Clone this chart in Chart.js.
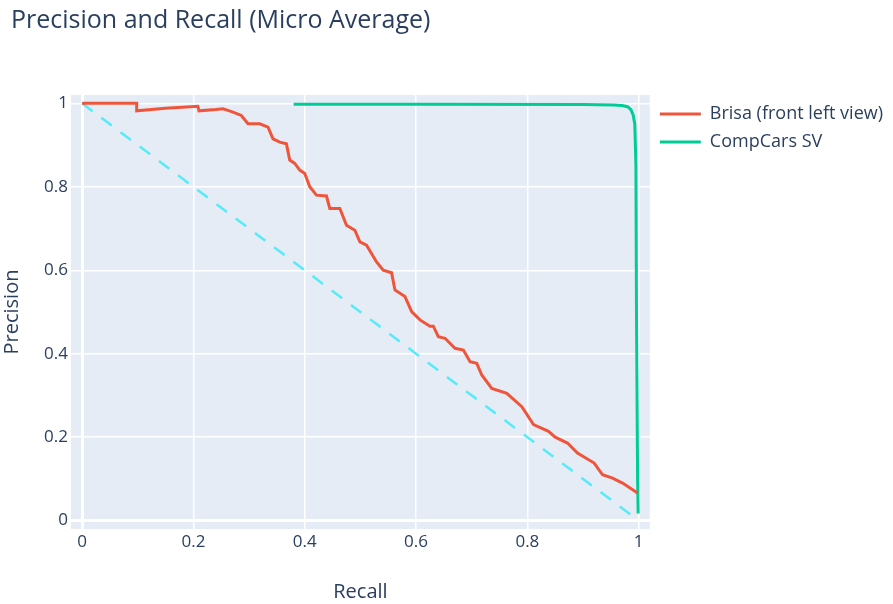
<!DOCTYPE html>
<html>
<head>
<meta charset="utf-8">
<title>Precision and Recall (Micro Average)</title>
<script src="https://cdn.jsdelivr.net/npm/chart.js@4/dist/chart.umd.min.js"></script>
<style>
    html, body { margin: 0; padding: 0; background: #fff; }
    #wrap { width: 893px; height: 604px; position: relative; }
</style>
</head>
<body>
<div id="wrap"><canvas id="pr-chart"></canvas></div>
<script>
// ===== Data =====
const brisaRecall = [0, 0.098, 0.098, 0.15, 0.208, 0.21, 0.24, 0.253, 0.262, 0.271, 0.286, 0.298, 0.319, 0.334, 0.343,
    0.355, 0.367, 0.373, 0.382, 0.391, 0.400, 0.409, 0.421, 0.439, 0.445, 0.463, 0.475, 0.490, 0.499, 0.511,
    0.529, 0.541, 0.556, 0.562, 0.580, 0.592, 0.607, 0.625, 0.631, 0.640, 0.652, 0.670, 0.685, 0.697, 0.709,
    0.718, 0.736, 0.763, 0.790, 0.811, 0.838, 0.850, 0.872, 0.890, 0.920, 0.935, 0.953, 0.971, 0.998];
const brisaPrecision = [1, 1, 0.982, 0.988, 0.993, 0.982, 0.985, 0.987, 0.983, 0.979, 0.971, 0.951, 0.951, 0.943, 0.915,
    0.907, 0.903, 0.864, 0.856, 0.840, 0.832, 0.800, 0.780, 0.778, 0.748, 0.748, 0.708, 0.696, 0.668, 0.660,
    0.620, 0.600, 0.594, 0.553, 0.537, 0.501, 0.481, 0.466, 0.466, 0.441, 0.437, 0.413, 0.409, 0.381, 0.377,
    0.349, 0.317, 0.305, 0.273, 0.230, 0.214, 0.200, 0.186, 0.162, 0.138, 0.110, 0.102, 0.090, 0.066];

const compRecall = [0.38, 0.6, 0.9, 0.955, 0.97, 0.98, 0.986, 0.99, 0.993, 0.995, 0.996, 0.998, 0.999];
const compPrecision = [0.998, 0.998, 0.997, 0.996, 0.995, 0.992, 0.985, 0.972, 0.95, 0.85, 0.5, 0.1, 0.017];

const chanceRecall = [0, 1];
const chancePrecision = [1, 0];

const tickValues = [0, 0.2, 0.4, 0.6, 0.8, 1];

const toPoints = (xs, ys) => xs.map((x, i) => ({ x, y: ys[i] }));

// ===== Chart =====
Chart.defaults.font.family = "'Open Sans', 'DejaVu Sans', sans-serif";
Chart.defaults.color = '#2a3f5f';

const plotBackground = {
    id: 'plotBackground',
    beforeDraw(chart) {
        const { ctx, chartArea: a } = chart;
        ctx.save();
        ctx.fillStyle = '#E5ECF6';
        ctx.fillRect(a.left, a.top, a.right - a.left, a.bottom - a.top);
        ctx.restore();
    }
};

const gridOpts = {
    color: '#ffffff',
    lineWidth: c => (c.tick && c.tick.value === 0 ? 3 : 1.5),
    drawTicks: false
};

new Chart(document.getElementById('pr-chart'), {
    type: 'scatter',
    data: {
        datasets: [
            {
                label: 'Brisa (front left view)',
                data: toPoints(brisaRecall, brisaPrecision),
                borderColor: '#EF553B',
                backgroundColor: '#EF553B',
                borderWidth: 3,
                showLine: true,
                pointRadius: 0
            },
            {
                label: 'CompCars SV',
                data: toPoints(compRecall, compPrecision),
                borderColor: '#00CC96',
                backgroundColor: '#00CC96',
                borderWidth: 3,
                showLine: true,
                pointRadius: 0
            },
            {
                label: 'chance',
                data: toPoints(chanceRecall, chancePrecision),
                borderColor: '#55ebf8',
                borderWidth: 2.5,
                borderDash: [13, 11],
                showLine: true,
                pointRadius: 0
            }
        ]
    },
    options: {
        responsive: true,
        maintainAspectRatio: false,
        animation: false,
        layout: { padding: { left: 11, top: 0, right: 0, bottom: 0 } },
        plugins: {
            title: {
                display: true,
                text: 'Precision and Recall (Micro Average)',
                align: 'start',
                color: '#2a3f5f',
                font: { size: 25, weight: 'normal' },
                padding: { top: 6, bottom: 59 }
            },
            legend: {
                position: 'right',
                align: 'start',
                fullSize: false,
                maxWidth: 244,
                labels: {
                    boxWidth: 41,
                    boxHeight: 3,
                    padding: 10,
                    color: '#2a3f5f',
                    font: { size: 18 },
                    filter: item => item.datasetIndex < 2,
                    generateLabels(chart) {
                        return Chart.defaults.plugins.legend.labels.generateLabels(chart).map(l => ({
                            ...l, fillStyle: l.strokeStyle, lineWidth: 0, lineDash: []
                        }));
                    }
                }
            },
            tooltip: { enabled: false }
        },
        scales: {
            x: {
                type: 'linear',
                min: -0.02,
                max: 1.02,
                afterBuildTicks: s => { s.ticks = tickValues.map(v => ({ value: v })); },
                afterFit: s => { s.height = 75; },
                ticks: { autoSkip: false, maxRotation: 0, padding: 3, font: { size: 17 }, callback: v => String(v) },
                grid: gridOpts,
                border: { display: false },
                title: { display: true, text: 'Recall', font: { size: 20 }, padding: { top: 0, bottom: 0 } }
            },
            y: {
                type: 'linear',
                min: -0.02,
                max: 1.02,
                afterBuildTicks: s => { s.ticks = tickValues.map(v => ({ value: v })); },
                afterFit: s => { s.width = 60; },
                ticks: { autoSkip: false, padding: 3, font: { size: 17 }, callback: v => String(v) },
                grid: gridOpts,
                border: { display: false },
                title: { display: true, text: 'Precision', font: { size: 20 }, padding: { top: -11, bottom: 0 } }
            }
        }
    },
    plugins: [plotBackground]
});
</script>
</body>
</html>
